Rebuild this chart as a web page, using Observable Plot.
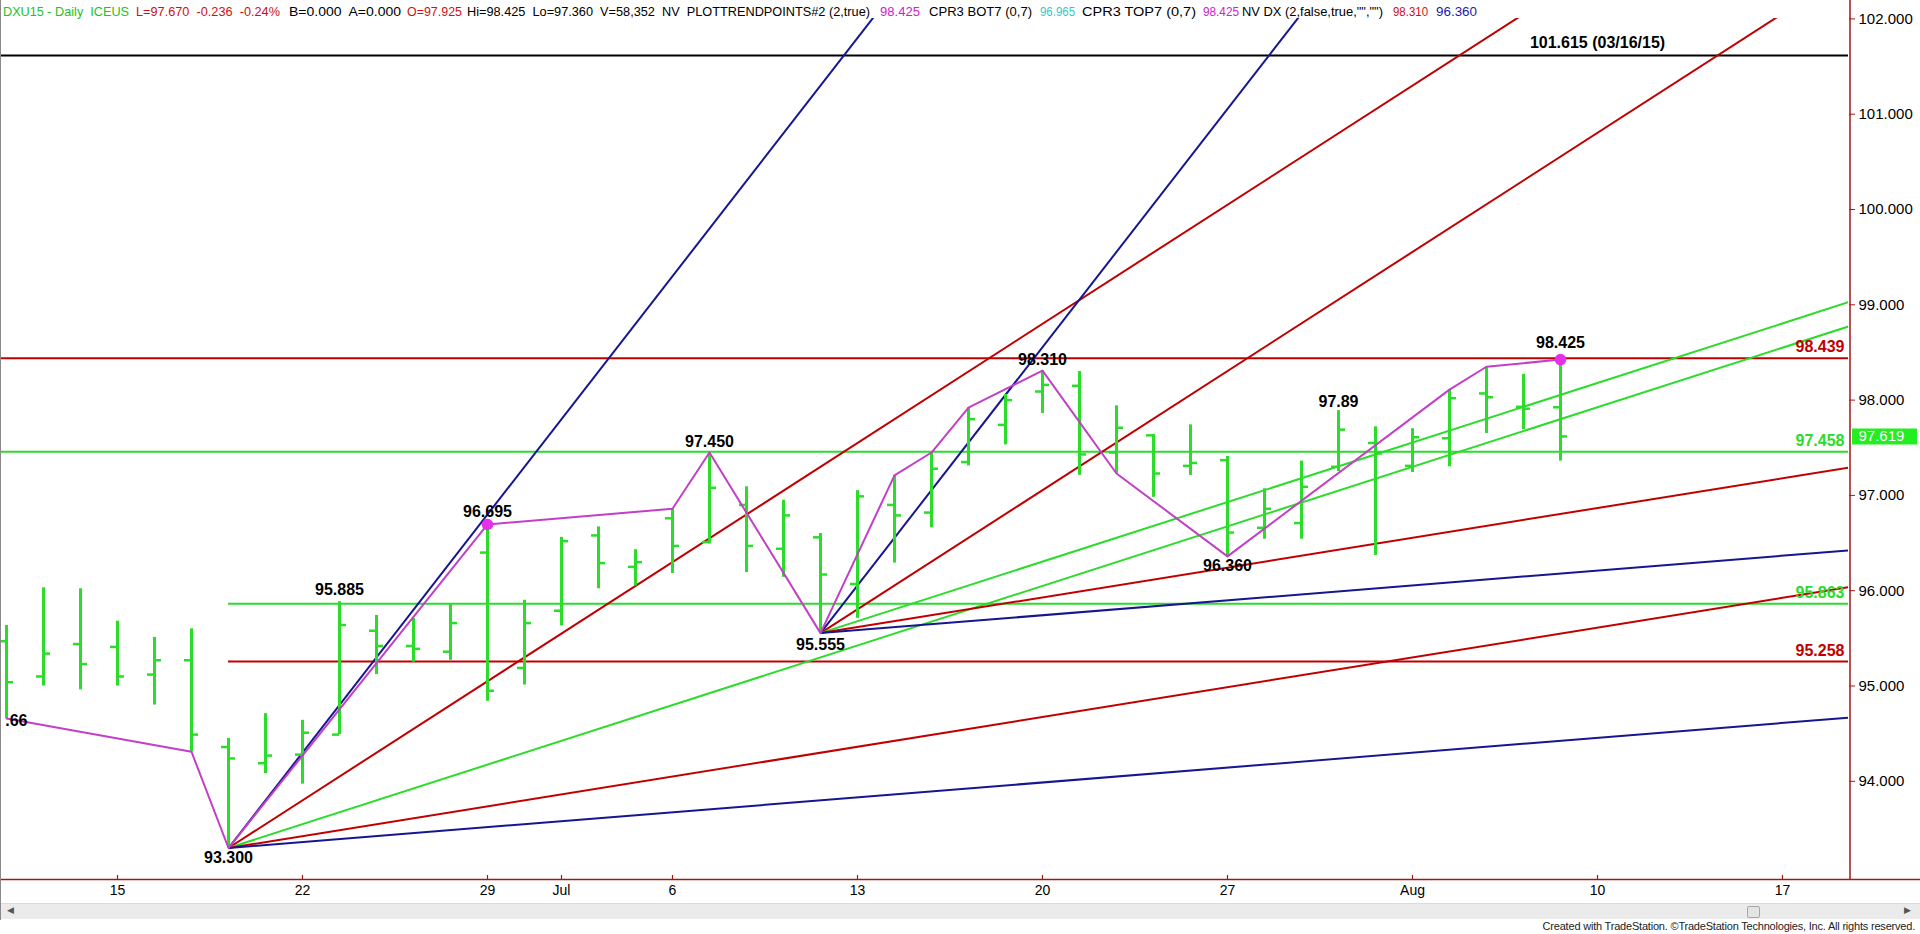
<!DOCTYPE html>
<html>
<head>
<meta charset="utf-8">
<script src="https://cdn.jsdelivr.net/npm/d3@7"></script>
<script src="https://cdn.jsdelivr.net/npm/@observablehq/plot@0.6"></script>
<style>
  body { margin: 0; background: #fff; font-family: "Liberation Sans", Arial, sans-serif; }
  #wrap { position: relative; width: 1920px; height: 934px; overflow: hidden; background: #fff; }
  #chart { position: absolute; left: 0; top: 0; }
  #hdr span { position: absolute; top: 4px; font-size: 13px; line-height: 16px; white-space: pre; transform-origin: 0 0; }
  #leftborder { position: absolute; left: 0; top: 0; width: 1px; height: 920px; background: #8a8a8a; }
  #scroll { position: absolute; left: 1px; top: 903px; width: 1919px; height: 16px; background: #ebebeb; border-top: 1px solid #dadada; box-sizing: border-box; }
  #thumb { position: absolute; left: 1746px; top: 2px; width: 13px; height: 12px; background: #e4e4e4; border: 1px solid #a8a8a8; border-radius: 2px; box-sizing: border-box; }
  .arrow { position: absolute; top: 1px; font-size: 9px; color: #555; }
  #footer { position: absolute; right: 5px; top: 920px; font-size: 11px; color: #222; white-space: pre; letter-spacing: -0.2px; }
</style>
</head>
<body>
<div id="wrap">
  <div id="chart"></div>
  <div id="hdr"></div>
  <div id="leftborder"></div>
  <div id="scroll"><span class="arrow" style="left:6px">&#9664;</span><div id="thumb"></div><span class="arrow" style="left:1903px">&#9654;</span></div>
  <div id="footer">Created with TradeStation. ©TradeStation Technologies, Inc. All rights reserved.</div>
</div>
<script>
// ---------------- DATA ----------------
const dates = ["Jun 10","Jun 11","Jun 12","Jun 15","Jun 16","Jun 17","Jun 18","Jun 19","Jun 22","Jun 23",
  "Jun 24","Jun 25","Jun 26","Jun 29","Jun 30","Jul 1","Jul 2","Jul 3","Jul 6","Jul 7",
  "Jul 8","Jul 9","Jul 10","Jul 13","Jul 14","Jul 15","Jul 16","Jul 17","Jul 20","Jul 21",
  "Jul 22","Jul 23","Jul 24","Jul 27","Jul 28","Jul 29","Jul 30","Jul 31","Aug 3","Aug 4",
  "Aug 5","Aug 6","Aug 7"];
const opens  = [95.47,95.10,95.44,95.41,95.12,95.27,94.36,94.19,94.28,94.49,
  95.58,95.42,95.36,96.40,95.19,95.79,96.58,96.25,96.76,96.51,
  96.90,96.44,96.56,96.07,96.90,96.82,97.35,97.74,98.09,98.15,
  97.45,97.63,97.31,97.37,96.66,96.71,97.30,97.55,97.31,97.60,
  98.07,97.93,97.925];
const highs  = [95.635,96.03,96.02,95.68,95.51,95.60,94.45,94.71,94.64,95.885,
  95.74,95.71,95.86,96.695,95.90,96.56,96.67,96.43,96.86,97.45,
  97.09,96.95,96.60,97.05,97.21,97.45,97.92,98.06,98.31,98.30,
  97.94,97.64,97.74,97.41,97.07,97.36,97.89,97.72,97.70,98.11,
  98.35,98.27,98.425];
const lows   = [94.66,95.00,94.96,95.00,94.80,94.31,93.30,94.08,93.97,94.49,
  95.12,95.25,95.27,94.84,95.01,95.63,96.02,96.05,96.18,96.49,
  96.19,96.14,95.555,95.71,96.29,96.66,97.31,97.53,97.86,97.21,
  97.23,96.98,97.21,96.36,96.54,96.54,97.25,96.37,97.24,97.30,
  97.65,97.69,97.36];
const closes = [95.04,95.34,95.23,95.10,95.27,94.49,94.24,94.27,94.51,95.64,
  95.42,95.39,95.66,94.95,95.66,96.52,96.29,96.30,96.47,97.08,
  96.47,96.79,96.17,96.99,96.79,97.28,97.80,98.00,98.16,97.43,
  97.71,97.23,97.34,96.61,96.86,97.09,97.69,97.44,97.61,98.02,
  98.03,97.91,97.619];

const xTickIdx    = [3, 8, 13, 15, 18, 23, 28, 33, 38, 43, 48];
const xTickLabels = ["15","22","29","Jul","6","13","20","27","Aug","10","17"];
const yTicks      = [94, 95, 96, 97, 98, 99, 100, 101, 102];

// zigzag swing points (bar index, price)
const swingIdx = [0, 5, 6, 13, 18, 19, 22, 24, 25, 26, 28, 30, 33, 39, 40, 42];
const swingVal = [94.66, 94.31, 93.30, 96.695, 96.86, 97.45, 95.555, 97.21, 97.45, 97.92, 98.31, 97.23, 96.36, 98.11, 98.35, 98.425];

// pivot labels (first one is cut by the left edge in the original: only ".66" shows)
const pivotIdx  = [0, 6, 9, 13, 19, 22, 28, 33, 36, 42];
const pivotVal  = [94.66, 93.30, 95.885, 96.695, 97.45, 95.555, 98.31, 96.36, 97.89, 98.425];
const pivotText = [".66","93.300","95.885","96.695","97.450","95.555","98.310","96.360","97.89","98.425"];

// marked points
const dotIdx = [13, 42];
const dotVal = [96.695, 98.425];

// Gann fans
const fanIdx = [6, 22];
const fanVal = [93.30, 95.555];
const gannSlopes = [0.5, 0.25, 0.125, 0.0625, 0.03125]; // price per bar: 4x1, 2x1, 1x1, 1x2, 1x4

// horizontal levels
const levelVals   = [101.615, 98.439, 97.458, 95.863, 95.258];
const levelStart  = [null, null, null, 6, 6];
const levelLabels = ["101.615 (03/16/15)", "98.439", "97.458", "95.863", "95.258"];

const lastPrice = 97.619;

// header segments
const headerText = ["DXU15 - Daily  ICEUS", "L=97.670  -0.236  -0.24%", "B=0.000  A=0.000", "O=97.925",
  "Hi=98.425  Lo=97.360  V=58,352  NV  PLOTTRENDPOINTS#2 (2,true)", "98.425", "CPR3 BOT7 (0,7)", "96.965",
  "CPR3 TOP7 (0,7)", "98.425", "NV DX (2,false,true,\"\",\"\")", "98.310", "96.360"];

// ---------------- STYLE / LAYOUT ----------------
const C = {
  green: "#2bdc2b", red: "#c00000", blue: "#16168f", magenta: "#c23fc6", dot: "#e630e6",
  axis: "#a01818", black: "#000000", cyan: "#33c8c8", hblue: "#1a1aa8", hred: "#d01010", hgreen: "#22c422"
};
const headerLeft  = [3, 136, 289, 407, 467, 880, 929, 1040, 1082, 1203, 1242, 1393, 1436];
const headerRight = [129, 280, 401, 462, 870, 920, 1032, 1075, 1196, 1239, 1383, 1428, 1477];
const headerColor = [C.hgreen, C.hred, C.black, C.hred, C.black, "#cc22cc", C.black, C.cyan, C.black, "#cc22cc", C.black, C.hred, C.hblue];
const pivotDy = [2, 10, -12, -13, -11, 12, -11, 9, -9, -17];
const fanColors = [C.blue, C.red, C.green, C.red, C.blue];
const levelColors = [C.black, C.red, C.green, C.green, C.red];

const W = 1920, H = 903, mTop = 18, mBottom = 24, mLeft = 0, mRight = 72;
const xDomain = [-0.162, 49.784];
const yDomain = [92.9696, 102.0042];
const pxPerBar = (W - mLeft - mRight) / (xDomain[1] - xDomain[0]);
const pxPerUnit = (H - mBottom - mTop) / (yDomain[1] - yDomain[0]);

// ---------------- BUILD ----------------
const bars = dates.map((d, i) => ({i, date: d, open: opens[i], high: highs[i], low: lows[i], close: closes[i]}));
const swings = swingIdx.map((x, k) => ({x, y: swingVal[k]}));
const pivots = pivotIdx.map((x, k) => ({x, y: pivotVal[k], text: pivotText[k], dy: pivotDy[k]}));
const dots = dotIdx.map((x, k) => ({x, y: dotVal[k]}));
const fans = [];
fanIdx.forEach((fx, p) => gannSlopes.forEach((s, k) => {
  fans.push({x1: fx, y1: fanVal[p], x2: xDomain[1], y2: fanVal[p] + s * (xDomain[1] - fx), color: fanColors[k]});
}));
const levels = levelVals.map((v, k) => ({y: v, x1: levelStart[k] == null ? xDomain[0] : levelStart[k], x2: xDomain[1], color: levelColors[k], label: levelLabels[k]}));
const tickLabel = new Map(xTickIdx.map((d, i) => [d, xTickLabels[i]]));
const tickLen = 7 / pxPerBar;
const yTopEdge = yDomain[1] + mTop / pxPerUnit;
const xRightEdge = xDomain[0] + W / pxPerBar;

const font = "Liberation Sans, Arial, sans-serif";

const plot = Plot.plot({
  width: W, height: H,
  marginTop: mTop, marginBottom: mBottom, marginLeft: mLeft, marginRight: mRight,
  x: {type: "linear", domain: xDomain},
  y: {type: "linear", domain: yDomain},
  style: {fontFamily: font, background: "white", color: "black"},
  marks: [
    // horizontal levels
    Plot.ruleY(levels, {y: "y", x1: "x1", x2: "x2", stroke: d => d.color, strokeWidth: 2, clip: true}),
    // Gann fan lines
    Plot.link(fans, {x1: "x1", y1: "y1", x2: "x2", y2: "y2", stroke: d => d.color, strokeWidth: 2, clip: true}),
    // OHLC bars
    Plot.ruleX(bars, {x: "i", y1: "low", y2: "high", stroke: C.green, strokeWidth: 3}),
    Plot.ruleY(bars, {y: "open", x1: d => d.i - tickLen, x2: d => d.i, stroke: C.green, strokeWidth: 2.5}),
    Plot.ruleY(bars, {y: "close", x1: d => d.i, x2: d => d.i + tickLen, stroke: C.green, strokeWidth: 2.5}),
    // zigzag
    Plot.line(swings, {x: "x", y: "y", stroke: C.magenta, strokeWidth: 2, clip: true}),
    Plot.dot(dots, {x: "x", y: "y", r: 5, fill: C.dot, stroke: C.dot}),
    // pivot labels
    ...pivots.map((p, k) => Plot.text([p], {x: "x", y: "y", text: "text", dy: p.dy, dx: k === 0 ? 21 : 0,
      textAnchor: k === 0 ? "end" : "middle", fontSize: 16, fontWeight: "bold", fill: "black", fontFamily: font})),
    // level labels
    Plot.text(levels.slice(0, 1), {x: 43, y: "y", text: "label", dy: -13, fontSize: 16, fontWeight: "bold", fill: "black", fontFamily: font}),
    Plot.text(levels.slice(1), {x: xDomain[1], y: "y", text: "label", dx: -4, dy: -11, textAnchor: "end", fontSize: 16, fontWeight: "bold", fill: d => d.color, fontFamily: font}),
    // axes frame lines
    Plot.ruleY([yDomain[0]], {x1: xDomain[0], x2: xRightEdge, stroke: C.axis, strokeWidth: 1.5}),
    Plot.ruleX([xDomain[1]], {x: d => d, y1: yDomain[0], y2: yTopEdge, dx: 1.5, stroke: C.axis, strokeWidth: 1.5}),
    // x ticks (inward) and labels
    Plot.ruleX(xTickIdx, {x: d => d, y1: yDomain[0], y2: yDomain[0] + 4 / pxPerUnit, stroke: C.axis, strokeWidth: 1.2}),
    Plot.axisX(xTickIdx, {anchor: "bottom", tickSize: 0, tickPadding: 6, tickFormat: d => tickLabel.get(d), fontSize: 14, fill: "black", fontFamily: font}),
    // y axis
    Plot.axisY(yTicks, {anchor: "right", tickSize: 6, tickPadding: 4, tickFormat: d3.format(".3f"), stroke: C.axis, fill: "black", fontSize: 15, fontFamily: font}),
    // last price box
    Plot.ruleY([lastPrice], {x1: xDomain[1] + 4 / pxPerBar, x2: xDomain[1] + 69 / pxPerBar, stroke: "#22ee22", strokeWidth: 16}),
    Plot.text([lastPrice], {x: xDomain[1], y: d => d, text: d => d3.format(".3f")(d), dx: 10, textAnchor: "start", fill: "white", fontSize: 15, fontFamily: font})
  ]
});
document.getElementById("chart").appendChild(plot);

// header line, each segment fitted to its width in the original
const hdr = document.getElementById("hdr");
headerText.forEach((t, i) => {
  const s = document.createElement("span");
  s.textContent = t; s.style.left = headerLeft[i] + "px"; s.style.color = headerColor[i];
  hdr.appendChild(s);
  const w = s.getBoundingClientRect().width;
  const target = headerRight[i] - headerLeft[i];
  if (w > 0) s.style.transform = `scaleX(${target / w})`;
});
</script>
</body>
</html>
